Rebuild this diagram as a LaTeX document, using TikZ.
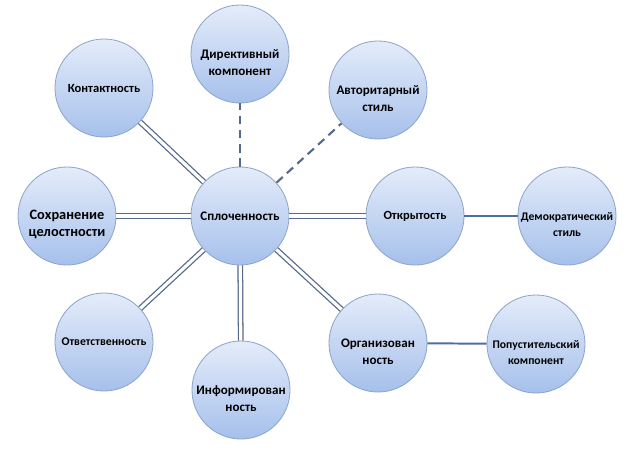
\documentclass[tikz,border=0pt]{standalone}
\usepackage{fontspec}
\setmainfont{Carlito}
\definecolor{ballTop}{HTML}{E4ECFA}
\definecolor{ballBot}{HTML}{A6C0EB}
\definecolor{ballRim}{HTML}{8FA5CC}
\definecolor{linkGray}{HTML}{56698A}
\definecolor{linkBlue}{HTML}{4A6EA5}
\begin{document}
\begin{tikzpicture}[x=0.025cm, y=-0.025cm,
    ball/.style={circle, draw=ballRim, line width=0.6pt, top color=ballTop, bottom color=ballBot,
        minimum size=2.45cm, inner sep=0pt, align=center, font=\fontsize{9.3}{12}\selectfont\bfseries},
    ballcap/.style={align=center, inner sep=0pt, yshift=-0.21cm, font=\fontsize{9.3}{12}\selectfont\bfseries},
    smallcap/.style={ballcap, font=\fontsize{8.3}{11}\selectfont\bfseries},
    twin/.style={draw=linkGray, line width=0.9pt, double=white, double distance=2.3pt},
    dashlink/.style={draw=linkGray, line width=1.5pt, dash pattern=on 6pt off 4pt},
    plainlink/.style={draw=linkBlue, line width=1.4pt}]

            \useasboundingbox (0, 0) rectangle (632, 450);

            \node (center) at (240, 216) [ball] {Сплоченность};

            \node (dir) at (240, 54) [ball, label={[ballcap]center:Директивный\\компонент}] {};
            \node (avt) at (378, 90) [ball, label={[ballcap]center:Авторитарный\\стиль}] {};
            \node (kon) at (104, 88) [ball, font=\fontsize{8.9}{12}\selectfont\bfseries] {Контактность};
            \node (soh) at (67, 216) [ball, label={[ballcap, font=\fontsize{10.2}{12}\selectfont\bfseries]center:Сохранение\\целостности}] {};
            \node (otk) at (415, 216) [ball, font=\fontsize{8.9}{12}\selectfont\bfseries] {Открытость};
            \node (dem) at (567, 216) [ball, label={[smallcap]center:Демократический\\стиль}] {};
            \node (otv) at (104, 342) [ball, font=\fontsize{8.4}{11}\selectfont\bfseries] {Ответственность};
            \node (inf) at (241, 390) [ball, label={[ballcap]center:Информирован\\ность}] {};
            \node (org) at (378, 343) [ball, label={[ballcap]center:Организован\\ность}] {};
            \node (pop) at (536, 344) [ball, label={[smallcap]center:Попустительский\\компонент}] {};

            \draw[dashlink] (center) -- (dir);
            \draw[dashlink] (center) -- (avt);

            \draw[twin] (center) -- (kon);
            \draw[twin] (center) -- (soh);
            \draw[twin] (center) -- (otk);
            \draw[twin] (center) -- (otv);
            \draw[twin] (center) -- (inf);
            \draw[twin] (center) -- (org);

            \draw[plainlink] (otk) -- (dem);
            \draw[plainlink] (org) -- (pop);

        \end{tikzpicture}
\end{document}
